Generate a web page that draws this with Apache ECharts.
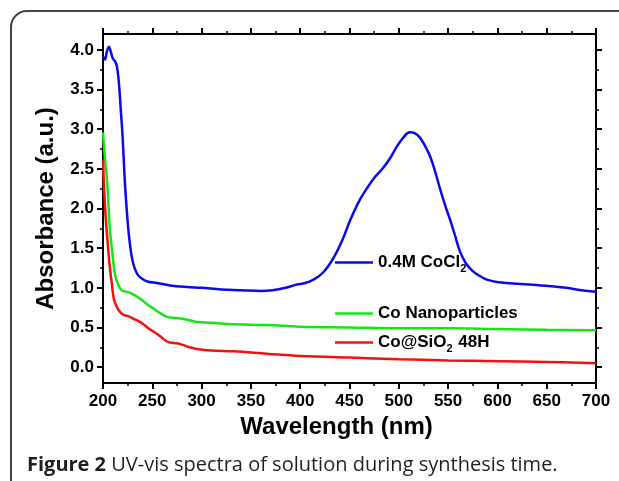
<!DOCTYPE html>
<html>
<head>
<meta charset="utf-8">
<title>UV-vis spectra</title>
<script src="https://cdn.jsdelivr.net/npm/echarts@6/dist/echarts.min.js"></script>
<style>
  html, body { margin: 0; padding: 0; background: #fff; }
  #uvchart { width: 619px; height: 481px; }
</style>
</head>
<body>
<div id="uvchart"></div>
<script>
// wavelength (nm), absorbance (a.u.)
var cocl2Data = [
  [200, 3.92], [202, 3.88], [204, 3.98], [206, 4.04], [208, 3.97], [210, 3.89],
  [212, 3.86], [214, 3.80], [216, 3.60], [218, 3.25], [220, 2.88], [222, 2.37],
  [224, 2.00], [226, 1.70], [229, 1.40], [232, 1.25], [235, 1.17], [239, 1.12],
  [245, 1.08], [255, 1.06], [268, 1.03], [285, 1.01], [300, 1.00], [320, 0.98],
  [340, 0.97], [360, 0.96], [372, 0.97], [385, 1.00], [396, 1.04], [405, 1.06],
  [413, 1.10], [423, 1.19], [433, 1.36], [442, 1.58], [451, 1.86], [460, 2.10],
  [468, 2.26], [476, 2.40], [484, 2.51], [491, 2.63], [498, 2.78], [505, 2.90],
  [511, 2.96], [516, 2.95], [521, 2.90], [527, 2.78], [532, 2.65],
  [537, 2.46], [542, 2.24], [547, 2.04], [552, 1.86], [557, 1.66], [562, 1.46],
  [568, 1.31], [575, 1.21], [582, 1.15], [590, 1.10], [602, 1.07], [620, 1.05],
  [636, 1.04], [655, 1.02], [670, 1.00], [685, 0.97], [700, 0.95]
];
var nanoData = [
  [200, 2.96], [202, 2.62], [204, 2.37], [207, 1.74], [210, 1.38], [212, 1.18],
  [215, 1.05], [219, 0.97], [227, 0.94], [233, 0.90], [238, 0.86], [244, 0.80],
  [251, 0.74], [258, 0.68], [266, 0.63], [274, 0.62], [281, 0.61], [288, 0.59],
  [295, 0.57], [310, 0.56], [332, 0.54], [366, 0.53], [400, 0.51], [450, 0.50],
  [500, 0.49], [550, 0.49], [600, 0.48], [650, 0.47], [700, 0.465]
];
var coSiO2Data = [
  [200, 2.62], [202, 2.03], [205, 1.53], [207, 1.25], [209, 1.05], [211, 0.86],
  [214, 0.76], [217, 0.70], [221, 0.66], [226, 0.64], [231, 0.61], [236, 0.58],
  [241, 0.54], [246, 0.49], [251, 0.45], [258, 0.39], [264, 0.33], [268, 0.31],
  [275, 0.30], [281, 0.28], [288, 0.25], [295, 0.23], [310, 0.21], [332, 0.20],
  [366, 0.17], [400, 0.14], [450, 0.12], [500, 0.10], [550, 0.085], [600, 0.075],
  [650, 0.065], [700, 0.05]
];
var seriesNames = ['0.4M CoCl2', 'Co Nanoparticles', 'Co@SiO2 48H'];
var legendLabels = ['0.4M CoCl{s|2}', 'Co Nanoparticles', 'Co@SiO{s|2} 48H'];
var yMajorTicks = [0, 0.5, 1, 1.5, 2, 2.5, 3, 3.5, 4];
var yMinorTicks = [0.25, 0.75, 1.25, 1.75, 2.25, 2.75, 3.25, 3.75];

var chartDom = document.getElementById('uvchart');
var myChart = echarts.init(chartDom);
var option;

var boldFont = 'Liberation Sans, Arial, sans-serif';

function makeLegend(idx, top) {
  return {
    data: [seriesNames[idx]],
    left: 335,
    top: top,
    padding: 0,
    icon: 'rect',
    itemWidth: 38,
    itemHeight: 2.5,
    itemGap: 0,
    selectedMode: false,
    formatter: function () { return legendLabels[idx]; },
    textStyle: {
      fontFamily: boldFont,
      fontWeight: 'bold',
      fontSize: 17,
      color: '#000',
      rich: {
        s: { fontFamily: boldFont, fontWeight: 'bold', fontSize: 11, color: '#000', padding: [12, 1, 0, 0] }
      }
    }
  };
}

function xAxisBase(pos) {
  return {
    type: 'value',
    position: pos,
    min: 200,
    max: 700,
    interval: 50,
    axisLine: { show: true, onZero: false, lineStyle: { color: '#000', width: 2 } },
    axisTick: { show: true, inside: false, length: 6, lineStyle: { color: '#000', width: 2 } },
    minorTick: { show: true, splitNumber: 2, length: 3, lineStyle: { color: '#000', width: 1.5 } },
    splitLine: { show: false },
    minorSplitLine: { show: false }
  };
}

function yAxisBase(pos, ticks, len, showLine) {
  return {
    type: 'value',
    position: pos,
    min: -0.2,
    max: 4.2,
    axisLine: { show: showLine, onZero: false, lineStyle: { color: '#000', width: 2 } },
    axisTick: { show: true, inside: false, length: len, customValues: ticks, lineStyle: { color: '#000', width: len > 4 ? 2 : 1.5 } },
    axisLabel: { show: false },
    splitLine: { show: false }
  };
}

var bottomX = xAxisBase('bottom');
bottomX.name = 'Wavelength (nm)';
bottomX.nameLocation = 'middle';
bottomX.nameGap = 31;
bottomX.nameTextStyle = { fontFamily: boldFont, fontWeight: 'bold', fontSize: 24, color: '#000', padding: [0, 26, 0, 0] };
bottomX.axisLabel = { show: true, margin: 10, fontFamily: boldFont, fontWeight: 'bold', fontSize: 17, color: '#000' };

var topX = xAxisBase('top');
topX.axisLabel = { show: false };

var leftY = yAxisBase('left', yMajorTicks, 6, true);
leftY.name = 'Absorbance (a.u.)';
leftY.nameLocation = 'middle';
leftY.nameGap = 45;
leftY.nameTextStyle = { fontFamily: boldFont, fontWeight: 'bold', fontSize: 24, color: '#000' };
leftY.axisLabel = {
  show: true, margin: 9, customValues: yMajorTicks,
  fontFamily: boldFont, fontWeight: 'bold', fontSize: 17, color: '#000',
  formatter: function (v) { return v.toFixed(1); }
};

option = {
  animation: false,
  backgroundColor: '#fff',
  grid: { left: 103, right: 23, top: 34, bottom: 98, containLabel: false },
  title: {
    left: 27,
    top: 455,
    padding: 0,
    text: '{b|Figure 2} UV-vis spectra of solution during synthesis time.',
    textStyle: {
      fontFamily: 'Open Sans, sans-serif',
      fontWeight: 'normal',
      fontSize: 20,
      color: '#231f20',
      rich: {
        b: { fontFamily: 'Open Sans, sans-serif', fontWeight: 'bold', fontSize: 20, color: '#231f20' }
      }
    }
  },
  graphic: [
    {
      type: 'rect',
      silent: true,
      z: -1,
      shape: { x: 11, y: 11, width: 800, height: 600, r: 16 },
      style: { fill: 'none', stroke: '#444', lineWidth: 2 }
    }
  ],
  legend: [makeLegend(0, 254), makeLegend(1, 305), makeLegend(2, 334)],
  xAxis: [bottomX, topX],
  yAxis: [
    leftY,
    yAxisBase('left', yMinorTicks, 3, false),
    yAxisBase('right', yMajorTicks, 6, true),
    yAxisBase('right', yMinorTicks, 3, false)
  ],
  series: [
    {
      name: seriesNames[0], type: 'line', data: cocl2Data,
      showSymbol: false, symbol: 'none', smooth: 0.4,
      lineStyle: { color: '#0a0aef', width: 2.5 }, itemStyle: { color: '#0a0aef' }
    },
    {
      name: seriesNames[1], type: 'line', data: nanoData,
      showSymbol: false, symbol: 'none', smooth: 0.4,
      lineStyle: { color: '#14e614', width: 2.5 }, itemStyle: { color: '#14e614' }
    },
    {
      name: seriesNames[2], type: 'line', data: coSiO2Data,
      showSymbol: false, symbol: 'none', smooth: 0.4,
      lineStyle: { color: '#f50f0f', width: 2.5 }, itemStyle: { color: '#f50f0f' }
    }
  ]
};

myChart.setOption(option);
</script>
</body>
</html>
